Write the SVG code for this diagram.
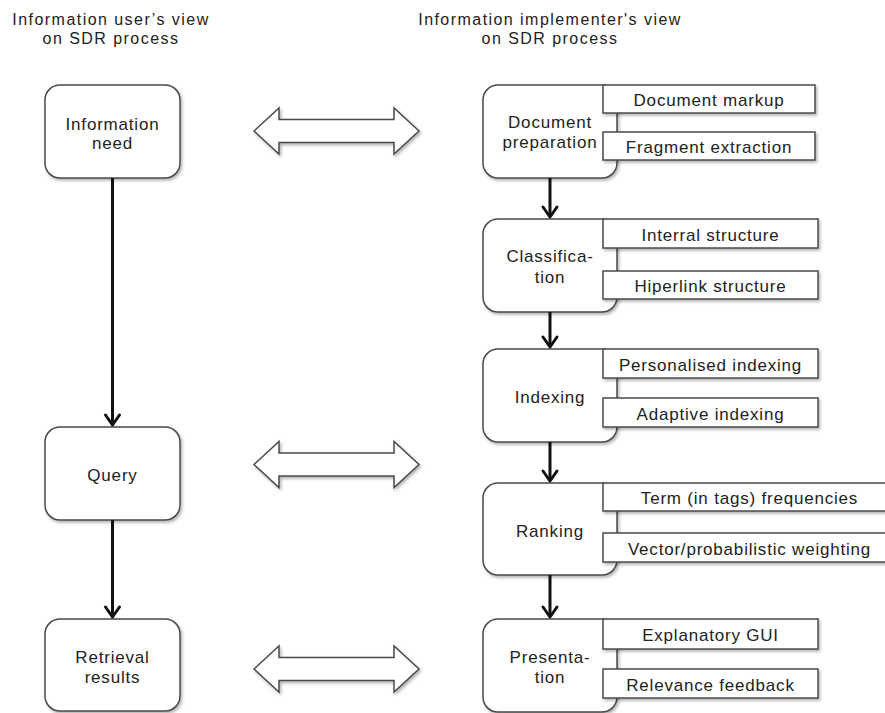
<svg xmlns="http://www.w3.org/2000/svg" xmlns:xlink="http://www.w3.org/1999/xlink" width="885" height="713" viewBox="0 0 885 713">
  <style>
    .box { fill: #ffffff; stroke: #4a4a4a; stroke-width: 1.5; filter: url(#shadow); }
    .sub { fill: #ffffff; stroke: #4a4a4a; stroke-width: 1.5; filter: url(#shadow); }
    .dbl { fill: #ffffff; stroke: #4a4a4a; stroke-width: 1.5; filter: url(#shadow); }
    .flow { fill: none; stroke: #111111; stroke-width: 3; marker-end: url(#chev); }
    text { font-family: "Liberation Sans", Arial, Helvetica, sans-serif; fill: #222222; text-anchor: middle; }
    .lbl { font-size: 17px; letter-spacing: 0.8px; }
    .ttl { font-size: 16px; letter-spacing: 1.45px; }
  </style>
  <defs>
    <filter id="shadow" x="-10%" y="-10%" width="130%" height="140%">
      <feDropShadow dx="1.5" dy="2" stdDeviation="1.5" flood-color="#000000" flood-opacity="0.3"/>
    </filter>
    <marker id="chev" markerUnits="userSpaceOnUse" viewBox="-14 -10 18 20" refX="0" refY="0" markerWidth="18" markerHeight="20" orient="auto">
      <path d="M-10,-7 L0,0 L-10,7" fill="none" stroke="#111111" stroke-width="3" stroke-linejoin="round" stroke-linecap="round"/>
    </marker>
    <!-- double-headed block arrow, centred vertically on y=0 -->
    <path id="dblarrow" d="M254,0 L279,-23 L279,-11.5 L394,-11.5 L394,-23 L419,0 L394,23 L394,11.5 L279,11.5 L279,23 Z"/>
  </defs>

  <!-- column headings -->
  <g id="title-user">
    <text class="ttl" x="111" y="25">Information user’s view</text>
    <text class="ttl" x="111" y="43.5">on SDR process</text>
  </g>
  <g id="title-implementer">
    <text class="ttl" x="550" y="25">Information implementer's view</text>
    <text class="ttl" x="550" y="43.5">on SDR process</text>
  </g>

  <!-- user's view -->
  <g id="information-need">
    <rect class="box" x="45" y="85" width="135" height="93" rx="15"/>
    <text class="lbl" x="112.5" y="130">Information</text>
    <text class="lbl" x="112.5" y="148.5">need</text>
  </g>
  <g id="query">
    <rect class="box" x="45" y="427" width="135" height="93" rx="15"/>
    <text class="lbl" x="112.5" y="481">Query</text>
  </g>
  <g id="retrieval-results">
    <rect class="box" x="45" y="619" width="135" height="92" rx="15"/>
    <text class="lbl" x="112.5" y="663">Retrieval</text>
    <text class="lbl" x="112.5" y="683">results</text>
  </g>

  <!-- implementer's view -->
  <g id="document-preparation">
    <rect class="box" x="483" y="85" width="134" height="93" rx="15"/>
    <rect class="sub" x="603" y="85" width="212" height="28"/>
    <rect class="sub" x="603" y="132" width="212" height="28"/>
    <text class="lbl" x="550" y="128">Document</text>
    <text class="lbl" x="550" y="148">preparation</text>
    <text class="lbl" x="709" y="106">Document markup</text>
    <text class="lbl" x="709" y="153">Fragment extraction</text>
  </g>
  <g id="classification">
    <rect class="box" x="483" y="219" width="134" height="93" rx="15"/>
    <rect class="sub" x="603" y="219" width="215" height="29"/>
    <rect class="sub" x="603" y="271" width="215" height="28"/>
    <text class="lbl" x="550" y="262">Classifica-</text>
    <text class="lbl" x="550" y="283">tion</text>
    <text class="lbl" x="710.5" y="240.5">Interral structure</text>
    <text class="lbl" x="710.5" y="292">Hiperlink structure</text>
  </g>
  <g id="indexing">
    <rect class="box" x="483" y="349" width="134" height="93" rx="15"/>
    <rect class="sub" x="603" y="349" width="215" height="29"/>
    <rect class="sub" x="603" y="398" width="215" height="29"/>
    <text class="lbl" x="550" y="403">Indexing</text>
    <text class="lbl" x="710.5" y="370.5">Personalised indexing</text>
    <text class="lbl" x="710.5" y="419.5">Adaptive indexing</text>
  </g>
  <g id="ranking">
    <rect class="box" x="483" y="483" width="134" height="92" rx="15"/>
    <rect class="sub" x="603" y="483" width="292" height="28"/>
    <rect class="sub" x="603" y="533" width="292" height="29"/>
    <text class="lbl" x="550" y="536.5">Ranking</text>
    <text class="lbl" x="749.5" y="504">Term (in tags) frequencies</text>
    <text class="lbl" x="749.5" y="554.5">Vector/probabilistic weighting</text>
  </g>
  <g id="presentation">
    <rect class="box" x="483" y="619" width="134" height="93" rx="15"/>
    <rect class="sub" x="603" y="619" width="215" height="30"/>
    <rect class="sub" x="603" y="669" width="215" height="29"/>
    <text class="lbl" x="550" y="663">Presenta-</text>
    <text class="lbl" x="550" y="683">tion</text>
    <text class="lbl" x="710.5" y="641">Explanatory GUI</text>
    <text class="lbl" x="710.5" y="690.5">Relevance feedback</text>
  </g>

  <!-- connectors -->
  <g id="connectors">
    <line class="flow" x1="112.5" y1="178" x2="112.5" y2="425"/>
    <line class="flow" x1="112.5" y1="520" x2="112.5" y2="617"/>
    <line class="flow" x1="550" y1="178" x2="550" y2="217"/>
    <line class="flow" x1="550" y1="312" x2="550" y2="347"/>
    <line class="flow" x1="550" y1="442" x2="550" y2="481"/>
    <line class="flow" x1="550" y1="575" x2="550" y2="617"/>
    <use class="dbl" xlink:href="#dblarrow" transform="translate(0,131)"/>
    <use class="dbl" xlink:href="#dblarrow" transform="translate(0,464.5)"/>
    <use class="dbl" xlink:href="#dblarrow" transform="translate(0,669)"/>
  </g>
</svg>
